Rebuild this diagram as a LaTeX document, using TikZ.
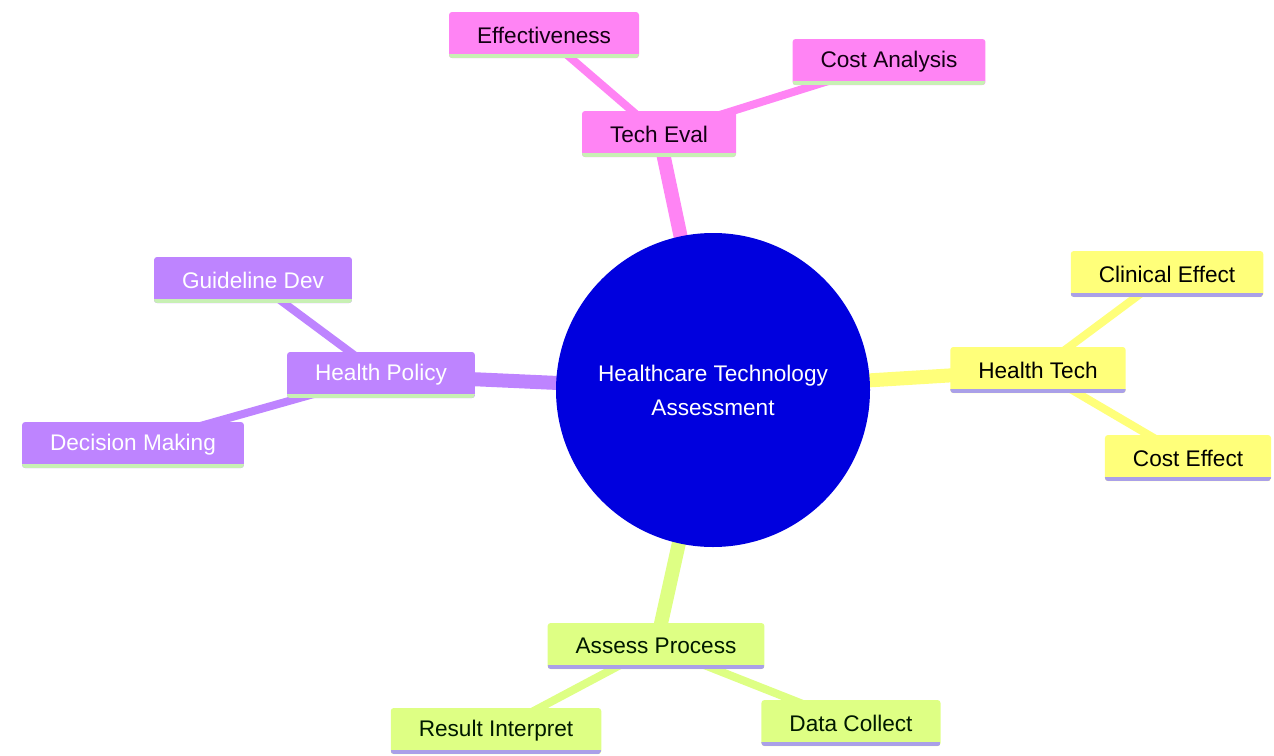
\documentclass[tikz,border=0pt]{standalone}
\usepackage{fontspec}
\setmainfont{Liberation Sans}
\usetikzlibrary{backgrounds}
\definecolor{rootblue}{RGB}{0,0,222}
\definecolor{evalpink}{RGB}{255,132,244}
\definecolor{policyviolet}{RGB}{190,132,255}
\definecolor{techyellow}{RGB}{255,255,122}
\definecolor{processgreen}{RGB}{222,255,132}
\definecolor{lineGreen}{RGB}{200,240,180}
\definecolor{lineLav}{RGB}{170,160,232}
\tikzstyle{root} = [circle, fill=rootblue, text=white, minimum size=157pt, align=center,
    font=\fontsize{11.3}{17}\selectfont]
\tikzstyle{topic} = [rectangle, rounded corners=1.5pt, minimum height=23pt, inner xsep=14pt,
    font=\fontsize{11.3}{13}\selectfont]
\tikzstyle{greenfoot} = [path picture={\draw[lineGreen, line width=2pt]
    ([yshift=1pt]path picture bounding box.south west) -- ([yshift=1pt]path picture bounding box.south east);}]
\tikzstyle{lavfoot} = [path picture={\draw[lineLav, line width=2pt]
    ([yshift=1pt]path picture bounding box.south west) -- ([yshift=1pt]path picture bounding box.south east);}]
\tikzstyle{eval} = [topic, greenfoot, fill=evalpink, text=black!85!violet]
\tikzstyle{policy} = [topic, greenfoot, fill=policyviolet, text=white]
\tikzstyle{tech} = [topic, lavfoot, fill=techyellow, text=black]
\tikzstyle{process} = [topic, lavfoot, fill=processgreen, text=black!90!green]
\tikzstyle{trunk} = [line width=7pt]
\tikzstyle{twig} = [line width=4pt]
\begin{document}
\begin{tikzpicture}[x=0.5pt, y=-0.5pt]
\useasboundingbox (0,0) rectangle (1274,755);

    % the centre and the four branches
    \node [root] (hta) at (713,390) {Healthcare Technology\\Assessment};
    \node [eval] (techeval) at (659,134) {Tech Eval};
    \node [eval] (effect) at (544,35) {Effectiveness};
    \node [eval] (costana) at (889,62) {Cost Analysis};
    \node [policy] (healthpol) at (381,375) {Health Policy};
    \node [policy] (guide) at (253,280) {Guideline Dev};
    \node [policy] (decide) at (133,445) {Decision Making};
    \node [tech] (healthtech) at (1038,370) {Health Tech};
    \node [tech] (clinical) at (1167,274) {Clinical Effect};
    \node [tech] (costeff) at (1188,458) {Cost Effect};
    \node [process] (assess) at (656,646) {Assess Process};
    \node [process] (result) at (496,731) {Result Interpret};
    \node [process] (datacol) at (851,723) {Data Collect};

    % connectors go behind the nodes
    \begin{scope}[on background layer]
    \draw [trunk, evalpink] (hta.center) -- (techeval.center);
    \draw [twig, evalpink] (techeval.center) -- (effect.center);
    \draw [twig, evalpink] (techeval.center) -- (costana.center);
    \draw [trunk, policyviolet] (hta.center) -- (healthpol.center);
    \draw [twig, policyviolet] (healthpol.center) -- (guide.center);
    \draw [twig, policyviolet] (healthpol.center) -- (decide.center);
    \draw [trunk, techyellow] (hta.center) -- (healthtech.center);
    \draw [twig, techyellow] (healthtech.center) -- (clinical.center);
    \draw [twig, techyellow] (healthtech.center) -- (costeff.center);
    \draw [trunk, processgreen] (hta.center) -- (assess.center);
    \draw [twig, processgreen] (assess.center) -- (result.center);
    \draw [twig, processgreen] (assess.center) -- (datacol.center);
    \end{scope}

\end{tikzpicture}
\end{document}
